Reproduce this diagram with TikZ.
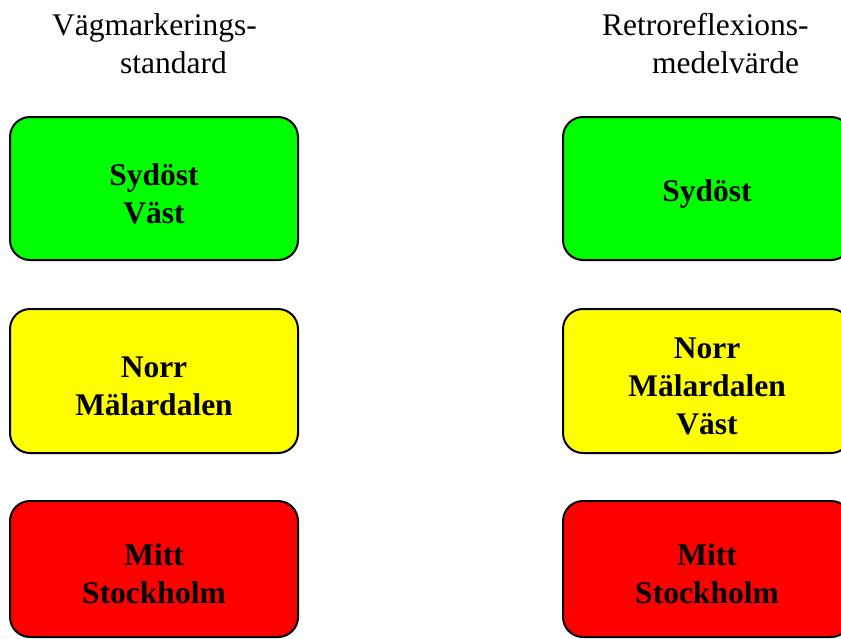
\documentclass[tikz,border=0pt]{standalone}
\usepackage{fontspec}
\setmainfont{Liberation Serif}
\begin{document}
\begin{tikzpicture}[x=1pt,y=-1pt,
  region/.style={draw=black,line width=2pt,rounded corners=20pt,
    minimum width=288pt,inner sep=0pt,align=center,
    font=\fontsize{31.5}{38}\selectfont\bfseries},
  head/.style={anchor=base west,inner sep=0pt,font=\fontsize{31.5}{38}\selectfont}]
\useasboundingbox (0,0) rectangle (841,638);
% headers
\node[head] (hl1) at (52,35) {Vägmarkerings-};
\node[head] (hl2) at (120,73) {standard};
\node[head] (hr1) at (602,35) {Retroreflexions-};
\node[head] (hr2) at (652,73) {medelvärde};
% left column
\node[region,fill={rgb,255:red,0;green,255;blue,0},minimum height=143pt] (l1) at (154,188.5) {\\[-6pt]Sydöst\\Väst};
\node[region,fill={rgb,255:red,255;green,255;blue,0},minimum height=144pt] (l2) at (154,381) {\\[-6pt]Norr\\Mälardalen};
\node[region,fill={rgb,255:red,255;green,0;blue,0},minimum height=136pt] (l3) at (154,569) {\\[-6pt]Mitt\\Stockholm};
% right column
\node[region,fill={rgb,255:red,0;green,255;blue,0},minimum height=143pt] (r1) at (707,188.5) {\\[-6pt]Sydöst};
\node[region,fill={rgb,255:red,255;green,255;blue,0},minimum height=144pt] (r2) at (707,381) {\\[-6pt]Norr\\Mälardalen\\Väst};
\node[region,fill={rgb,255:red,255;green,0;blue,0},minimum height=136pt] (r3) at (707,569) {\\[-6pt]Mitt\\Stockholm};
\end{tikzpicture}
\end{document}
